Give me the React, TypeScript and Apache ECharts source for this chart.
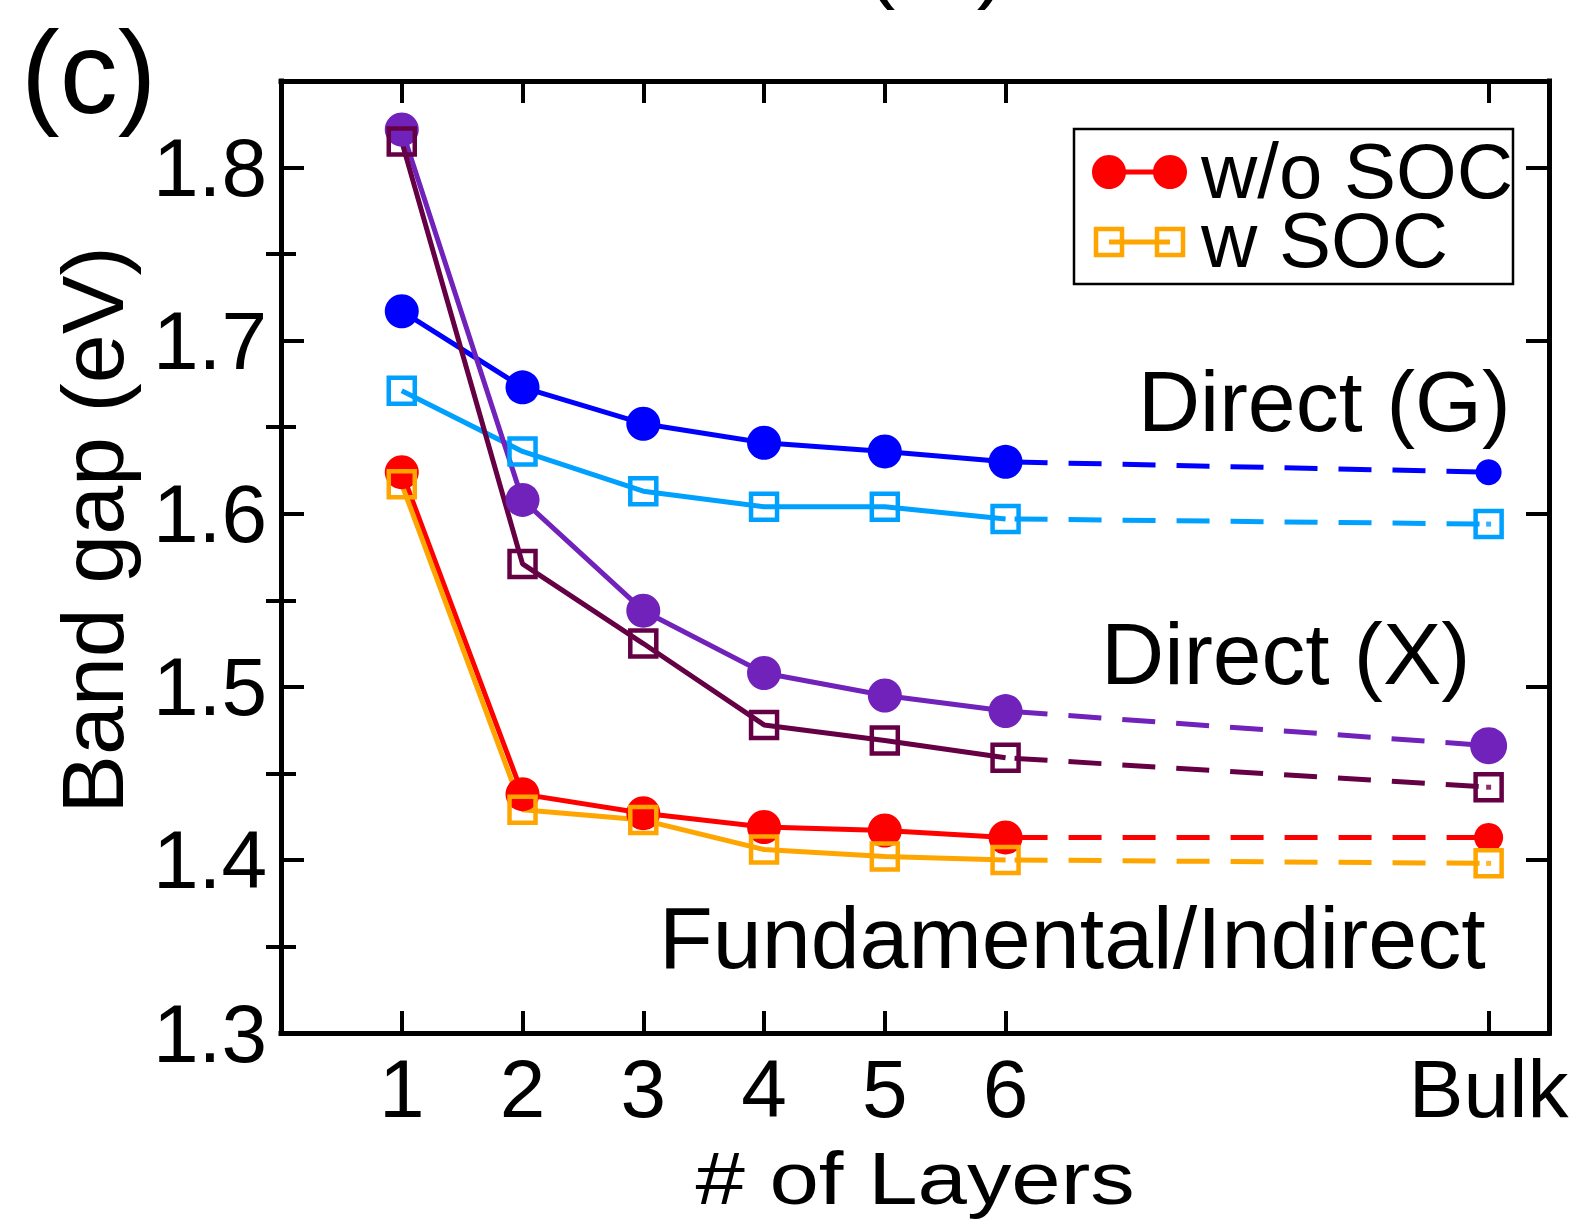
import React, { useEffect, useRef } from "react";
import * as echarts from "echarts";

// Layer positions on the x scale; the bulk value sits at a separate slot.
const layerPositions = [1, 2, 3, 4, 5, 6];
const bulkPosition = 10;
const xTickValues = [1, 2, 3, 4, 5, 6, 10];
const xTickLabels = ["1", "2", "3", "4", "5", "6", "Bulk"];
const yMajorTicks = [1.3, 1.4, 1.5, 1.6, 1.7, 1.8];
const yMinorTicks = [1.35, 1.45, 1.55, 1.65, 1.75];

// Band gaps (eV) for 1..6 layers, plus the bulk value
const directGNoSoc = [1.717, 1.673, 1.652, 1.641, 1.636, 1.63];
const directGNoSocBulk = 1.624;
const directGSoc = [1.671, 1.636, 1.613, 1.604, 1.604, 1.597];
const directGSocBulk = 1.594;
const directXNoSoc = [1.822, 1.608, 1.544, 1.508, 1.495, 1.486];
const directXNoSocBulk = 1.466;
const directXSoc = [1.815, 1.571, 1.525, 1.478, 1.469, 1.459];
const directXSocBulk = 1.442;
const indirectNoSoc = [1.624, 1.438, 1.427, 1.419, 1.417, 1.413];
const indirectNoSocBulk = 1.413;
const indirectSoc = [1.617, 1.429, 1.423, 1.406, 1.402, 1.4];
const indirectSocBulk = 1.398;

const FONT = "'Liberation Sans', Arial, Helvetica, sans-serif";

const C_BLUE = "#0000ff";
const C_LIGHTBLUE = "#00a0ff";
const C_PURPLE = "#7022bb";
const C_DARKPURPLE = "#660044";
const C_RED = "#ff0000";
const C_ORANGE = "#ffa500";

type Group = {
  name: string;
  values: number[];
  bulk: number;
  color: string;
  soc: boolean;
  bulkSize: number;
};

const groups: Group[] = [
  { name: "Direct (G) w/o SOC", values: directGNoSoc, bulk: directGNoSocBulk, color: C_BLUE, soc: false, bulkSize: 26 },
  { name: "Direct (G) w SOC", values: directGSoc, bulk: directGSocBulk, color: C_LIGHTBLUE, soc: true, bulkSize: 26 },
  { name: "Direct (X) w/o SOC", values: directXNoSoc, bulk: directXNoSocBulk, color: C_PURPLE, soc: false, bulkSize: 37 },
  { name: "Direct (X) w SOC", values: directXSoc, bulk: directXSocBulk, color: C_DARKPURPLE, soc: true, bulkSize: 26 },
  { name: "Indirect w/o SOC", values: indirectNoSoc, bulk: indirectNoSocBulk, color: C_RED, soc: false, bulkSize: 29 },
  { name: "Indirect w SOC", values: indirectSoc, bulk: indirectSocBulk, color: C_ORANGE, soc: true, bulkSize: 26 },
];

function markerStyle(color: string, soc: boolean) {
  return soc
    ? { color: "rgba(0,0,0,0)", borderColor: color, borderWidth: 4.5 }
    : { color, borderWidth: 0 };
}

function buildSeries(): any[] {
  const out: any[] = [];
  groups.forEach((g) => {
    const symbol = g.soc ? "rect" : "circle";
    const size = g.soc ? 26 : 34;
    out.push({
      name: g.name,
      type: "line",
      xAxisIndex: 0,
      yAxisIndex: 0,
      data: layerPositions.map((x, i) => [x, g.values[i]]),
      symbol,
      symbolSize: size,
      showAllSymbol: true,
      lineStyle: { color: g.color, width: 5 },
      itemStyle: markerStyle(g.color, g.soc),
      silent: true,
    });
    const last = layerPositions.length - 1;
    out.push({
      name: g.name + " bulk",
      type: "line",
      xAxisIndex: 0,
      yAxisIndex: 0,
      data: [
        { value: [layerPositions[last], g.values[last]], symbol: "none" },
        { value: [bulkPosition, g.bulk], symbol, symbolSize: g.bulkSize },
      ],
      lineStyle: { color: g.color, width: 5, type: [33, 21], dashOffset: -9.5 },
      itemStyle: markerStyle(g.color, g.soc),
      silent: true,
    });
    if (g.soc) {
      out.push({
        name: g.name + " bulk dot",
        type: "scatter",
        xAxisIndex: 0,
        yAxisIndex: 0,
        data: [[bulkPosition, g.bulk]],
        symbol: "rect",
        symbolSize: 5,
        itemStyle: { color: g.color },
        silent: true,
      });
    }
  });
  return out;
}

const axisLine = {
  show: true,
  onZero: false,
  lineStyle: { color: "#000", width: 5, cap: "square" },
};

function xAxisDef(position: "bottom" | "top", labels: boolean) {
  return {
    type: "value",
    position,
    min: 0,
    max: 10.5,
    axisLine,
    axisTick: {
      show: true,
      inside: true,
      length: 22,
      customValues: xTickValues,
      lineStyle: { color: "#000", width: 4 },
    },
    axisLabel: {
      show: labels,
      customValues: xTickValues,
      formatter: (v: number) => xTickLabels[xTickValues.indexOf(v)] ?? "",
      color: "#000",
      fontSize: 82,
      fontFamily: FONT,
      margin: 14,
    },
    splitLine: { show: false },
    minorTick: { show: false },
  };
}

function yAxisDef(position: "left" | "right", ticks: number[], len: number, labels: boolean, line: boolean) {
  return {
    type: "value",
    position,
    min: 1.3,
    max: 1.85,
    axisLine: line ? axisLine : { show: false },
    axisTick: {
      show: true,
      inside: true,
      length: len,
      customValues: ticks,
      lineStyle: { color: "#000", width: 4 },
    },
    axisLabel: {
      show: labels,
      customValues: ticks,
      formatter: (v: number) => v.toFixed(1),
      color: "#000",
      fontSize: 82,
      fontFamily: FONT,
      margin: 14,
    },
    splitLine: { show: false },
  };
}

function textEl(text: string, x: number, y: number, fontSize: number, extra: any = {}) {
  const { align, lineHeight, ...rest } = extra;
  return {
    type: "text",
    x,
    y,
    silent: true,
    ...rest,
    style: {
      text,
      fill: "#000",
      fontSize,
      fontFamily: FONT,
      align: align ?? "left",
      verticalAlign: "middle",
      lineHeight: lineHeight ?? fontSize,
    },
  };
}

function legendGraphics(): any[] {
  const x1 = 1109;
  const x2 = 1170;
  const r1 = 172;
  const r2 = 242;
  const sq = 26;
  return [
    {
      type: "rect",
      shape: { x: 1074, y: 129, width: 439, height: 155 },
      style: { fill: "none", stroke: "#000", lineWidth: 2.5 },
      silent: true,
    },
    { type: "line", shape: { x1, y1: r1, x2, y2: r1 }, style: { stroke: C_RED, lineWidth: 5 }, silent: true },
    { type: "circle", shape: { cx: x1, cy: r1, r: 17 }, style: { fill: C_RED }, silent: true },
    { type: "circle", shape: { cx: x2, cy: r1, r: 17 }, style: { fill: C_RED }, silent: true },
    { type: "line", shape: { x1, y1: r2, x2, y2: r2 }, style: { stroke: C_ORANGE, lineWidth: 5 }, silent: true },
    {
      type: "rect",
      shape: { x: x1 - sq / 2, y: r2 - sq / 2, width: sq, height: sq },
      style: { fill: "none", stroke: C_ORANGE, lineWidth: 4.5 },
      silent: true,
    },
    {
      type: "rect",
      shape: { x: x2 - sq / 2, y: r2 - sq / 2, width: sq, height: sq },
      style: { fill: "none", stroke: C_ORANGE, lineWidth: 4.5 },
      silent: true,
    },
    textEl("w/o SOC", 1201, 171, 78, { lineHeight: 62 }),
    textEl("w SOC", 1201, 240, 78, { lineHeight: 62 }),
  ];
}

export default function App() {
  const ref = useRef<HTMLDivElement>(null);

  useEffect(() => {
    document.body.style.margin = "0";
    if (!ref.current) return;
    const chart = echarts.init(ref.current, null, { renderer: "svg" });
    chart.setOption({
      animation: false,
      backgroundColor: "#ffffff",
      grid: {
        left: 281,
        top: 81,
        right: 35,
        bottom: 197,
        containLabel: false,
        outerBoundsMode: "none",
      },
      legend: { show: false },
      tooltip: { show: false },
      xAxis: [xAxisDef("bottom", true), xAxisDef("top", false)],
      yAxis: [
        yAxisDef("left", yMajorTicks, 23, true, true),
        yAxisDef("left", yMinorTicks, 15, false, false),
        yAxisDef("right", yMajorTicks, 23, false, true),
        yAxisDef("right", yMinorTicks, 15, false, false),
      ],
      series: buildSeries(),
      graphic: [
        textEl("(c)", 21, 73, 116),
        textEl("(", 866, -39, 88),
        textEl(")", 1006, -39, 88, { align: "right" }),
        textEl("Band gap (eV)", 92, 530, 88, { align: "center", rotation: Math.PI / 2 }),
        textEl("# of Layers", 915, 1178, 74, { align: "center", scaleX: 1.2 }),
        textEl("Direct (G)", 1138, 401, 86),
        textEl("Direct (X)", 1101, 654, 87.5),
        textEl("Fundamental/Indirect", 659, 937, 88),
        ...legendGraphics(),
      ],
    });
    return () => chart.dispose();
  }, []);

  return <div ref={ref} style={{ width: 1584, height: 1230 }} />;
}
